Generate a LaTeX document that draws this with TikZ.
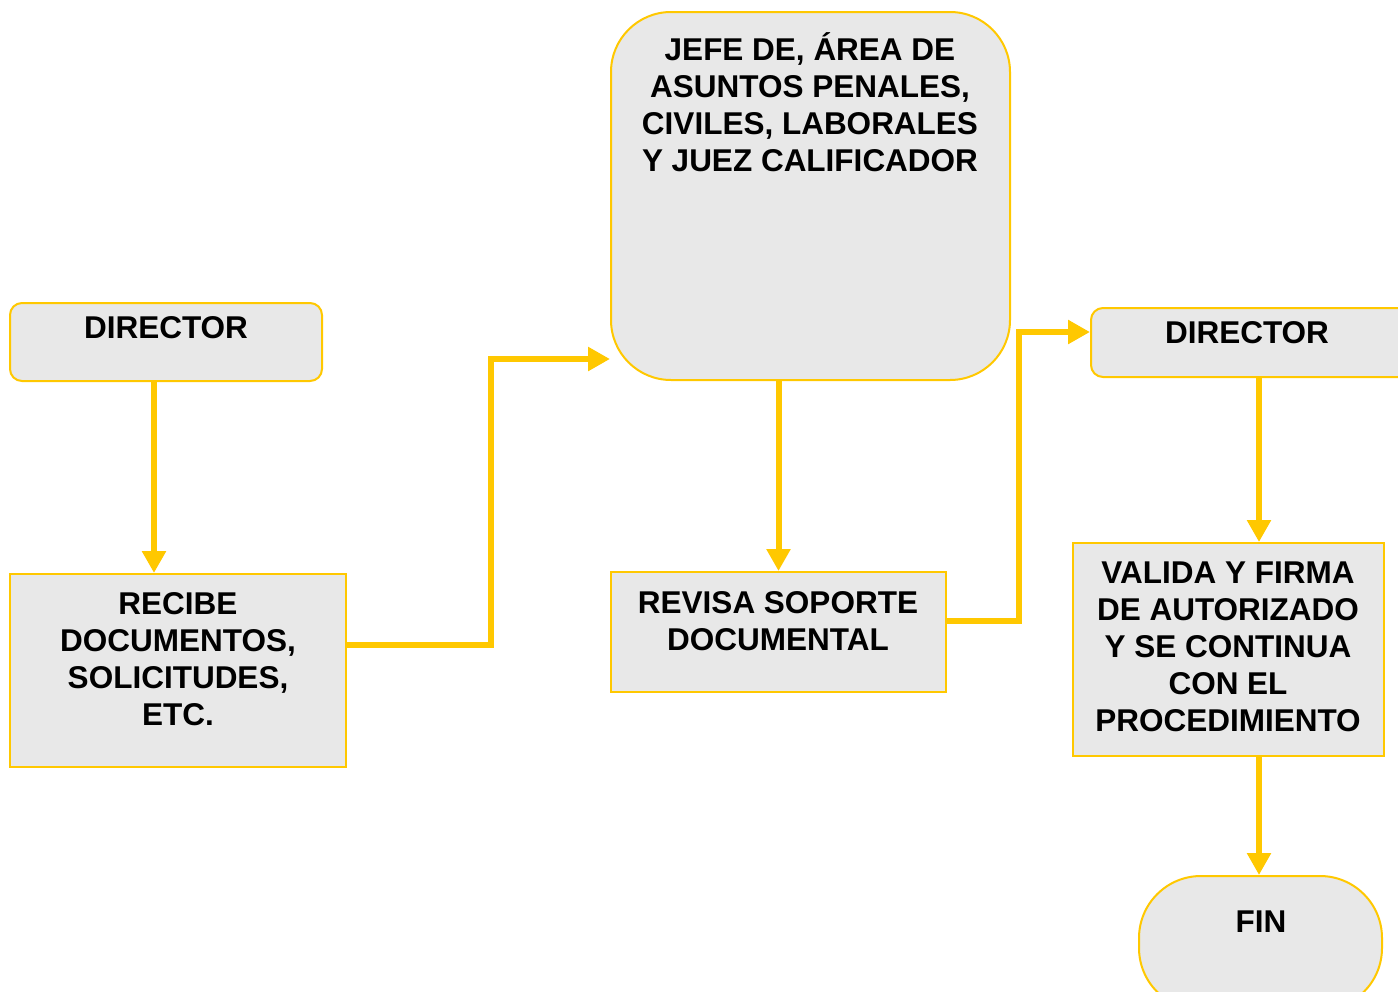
\documentclass[tikz,border=0pt]{standalone}
\usepackage{fontspec}
\setmainfont{Liberation Sans}
\usetikzlibrary{arrows.meta}
\definecolor{ylw}{HTML}{FFC800}
\definecolor{boxfill}{HTML}{E8E8E8}
\begin{document}
\begin{tikzpicture}[x=1pt,y=-1pt,
  box/.style={draw=ylw, line width=2pt, fill=boxfill, inner sep=0pt, rectangle},
  txt/.style={font=\fontsize{31.5}{37}\selectfont\bfseries, align=center, inner sep=0pt, anchor=base},
  arr/.style={draw=ylw, line width=6pt, -{Triangle[length=22pt,width=23pt]}}]
\clip (0,0) rectangle (1398,991);
\fill[white] (0,0) rectangle (1398,991);
% boxes
\node[box, rounded corners=12pt, minimum width=312pt, minimum height=78pt] (d1) at (166,342) {};
\node[box, minimum width=336pt, minimum height=193pt] (r1) at (178,670.5) {};
\node[box, rounded corners=60pt, minimum width=399pt, minimum height=368pt] (j) at (810.5,196) {};
\node[box, minimum width=335pt, minimum height=120pt] (rv) at (778.5,632) {};
\node[box, rounded corners=12pt, minimum width=319pt, minimum height=69pt] (d2) at (1250.5,342.5) {};
\node[box, minimum width=311pt, minimum height=213pt] (v) at (1228.5,649.5) {};
\node[box, rounded corners=62pt, minimum width=243pt, minimum height=134pt] (fin) at (1260.5,943) {};
% texts (base anchor = baseline of last line)
\node[txt] (t1) at (166,338) {DIRECTOR};
\node[txt] (t2) at (178,725) {RECIBE\\DOCUMENTOS,\\SOLICITUDES,\\ETC.};
\node[txt] (t3) at (810,171) {JEFE DE, ÁREA DE\\ASUNTOS PENALES,\\CIVILES, LABORALES\\Y JUEZ CALIFICADOR};
\node[txt] (t4) at (778,650) {REVISA SOPORTE\\DOCUMENTAL};
\node[txt] (t5) at (1247,343) {DIRECTOR};
\node[txt] (t6) at (1228,731) {VALIDA Y FIRMA\\DE AUTORIZADO\\Y SE CONTINUA\\CON EL\\PROCEDIMIENTO};
\node[txt] (t7) at (1261,932) {FIN};
% connectors
\draw[arr] ([xshift=-12pt]d1.south) -- ([xshift=-24pt]r1.north);
\draw[arr] ([yshift=25.5pt]r1.east) -- ++(144,0) |- ([yshift=-163pt]j.west);
\draw[arr] (j.south -| rv.north) -- (rv.north);
\draw[arr] ([yshift=11pt]rv.east) -- ++(72,0) |- ([yshift=10.5pt]d2.west);
\draw[arr] ([xshift=8.5pt]d2.south) -- ([xshift=8.5pt]d2.south |- v.north);
\draw[arr] ([xshift=30.5pt]v.south) -- ([xshift=30.5pt]v.south |- fin.north);
\end{tikzpicture}
\end{document}
